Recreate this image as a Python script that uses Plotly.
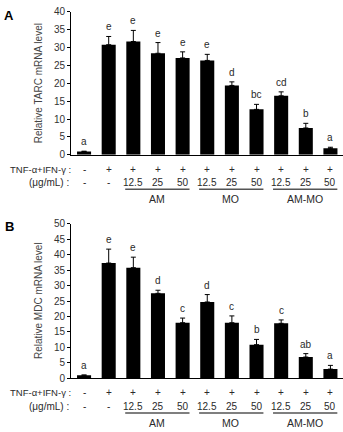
import plotly.graph_objects as go

W, H = 343, 432

# ---- data ----
x_idx = list(range(11))
tnf_row = ["-", "+", "+", "+", "+", "+", "+", "+", "+", "+", "+"]
dose_row = ["-", "-", "12.5", "25", "50", "12.5", "25", "50", "12.5", "25", "50"]
groups = ["AM", "MO", "AM-MO"]
group_cols = [(2, 4), (5, 7), (8, 10)]

tarc_vals = [0.9, 30.8, 31.7, 28.4, 27.1, 26.4, 19.4, 12.7, 16.5, 7.5, 1.8]
tarc_err = [0.1, 2.3, 3.1, 3.0, 1.7, 1.7, 1.0, 1.4, 1.1, 1.3, 0.3]
tarc_sig = ["a", "e", "e", "e", "e", "e", "d", "bc", "cd", "b", "a"]

mdc_vals = [1.0, 37.3, 35.8, 27.5, 18.0, 24.7, 18.0, 10.9, 17.8, 6.9, 3.0]
mdc_err = [0.1, 4.5, 3.4, 1.0, 1.5, 2.4, 2.2, 1.7, 1.1, 1.1, 1.2]
mdc_sig = ["a", "e", "e", "d", "c", "d", "c", "b", "c", "ab", "a"]

FONT = "Liberation Sans, Arial, sans-serif"
TXT = "#2a2a2a"


def py(p):
    return 1 - p / H


def px(p):
    return p / W


fig = go.Figure()

panels = [
    dict(vals=tarc_vals, err=tarc_err, sig=tarc_sig, xa="x", ya="y",
         top=6, bot=153, ymax=40, title="Relative TARC mRNA level", label="A", label_y=10),
    dict(vals=mdc_vals, err=mdc_err, sig=mdc_sig, xa="x2", ya="y2",
         top=224, bot=383, ymax=50, title="Relative MDC mRNA level", label="B", label_y=227),
]

annotations = []
shapes = []

for p in panels:
    fig.add_trace(go.Bar(
        x=x_idx, y=p["vals"], xaxis=p["xa"], yaxis=p["ya"],
        marker=dict(color="black", line=dict(width=0)),
        width=0.57,
        error_y=dict(type="data", array=p["err"], arrayminus=[0] * len(p["err"]),
                     symmetric=False, color="black", thickness=1, width=2.5),
        showlegend=False, hoverinfo="skip",
    ))
    # significance letters
    for i, (v, e, s) in enumerate(zip(p["vals"], p["err"], p["sig"])):
        annotations.append(dict(
            x=i, y=v + e, xref=p["xa"], yref=p["ya"], text=s, showarrow=False,
            yanchor="bottom", yshift=2, font=dict(size=10, color=TXT, family=FONT),
        ))
    # y title
    annotations.append(dict(
        x=px(38), y=py((p["top"] + p["bot"]) / 2), xref="paper", yref="paper",
        text=p["title"], textangle=-90, showarrow=False,
        xanchor="center", yanchor="middle",
        font=dict(size=10, color="#444", family=FONT),
    ))
    # panel label
    annotations.append(dict(
        x=px(9), y=py(p["label_y"]), xref="paper", yref="paper", text="<b>" + p["label"] + "</b>",
        xanchor="center", yanchor="middle",
        showarrow=False, font=dict(size=13, color="black", family=FONT),
    ))
    # table below
    b = p["bot"]
    y_tnf, y_dose, y_line, y_grp = b + 15, b + 28.5, b + 35.5, b + 46
    annotations.append(dict(x=px(73), y=py(y_tnf), xref="paper", yref="paper",
                            text="TNF-α+IFN-γ :", showarrow=False, xanchor="right",
                            yanchor="middle",
                            font=dict(size=9.5, color=TXT, family=FONT)))
    annotations.append(dict(x=px(71), y=py(y_dose), xref="paper", yref="paper",
                            text="(μg/mL) :", showarrow=False, xanchor="right",
                            yanchor="middle",
                            font=dict(size=10, color=TXT, family=FONT)))
    for i in x_idx:
        annotations.append(dict(x=i, y=py(y_tnf), xref=p["xa"], yref="paper",
                                text=tnf_row[i], showarrow=False, yanchor="middle",
                                font=dict(size=10, color=TXT, family=FONT)))
        annotations.append(dict(x=i, y=py(y_dose), xref=p["xa"], yref="paper",
                                text=dose_row[i], showarrow=False, yanchor="middle",
                                font=dict(size=10, color=TXT, family=FONT)))
    for g, (c0, c1) in zip(groups, group_cols):
        shapes.append(dict(type="line", xref=p["xa"], yref="paper",
                           x0=c0 - 0.33, x1=c1 + 0.28, y0=py(y_line), y1=py(y_line),
                           line=dict(color="#555", width=1.5)))
        annotations.append(dict(x=(c0 + c1) / 2 - 0.05, y=py(y_grp), xref=p["xa"], yref="paper",
                                text=g, showarrow=False, yanchor="middle",
                                font=dict(size=10.5, color=TXT, family=FONT)))

xcommon = dict(range=[-0.53, 10.51], showticklabels=False, ticks="", showgrid=False,
               zeroline=False, showline=True, linecolor="black", linewidth=1,
               domain=[px(71), 1], fixedrange=True)
ycommon = dict(showgrid=False, zeroline=False, showline=True, linecolor="black", linewidth=1,
               ticks="outside", ticklen=3, tickcolor="black", dtick=5,
               tickfont=dict(size=10, color="#333", family=FONT), fixedrange=True)

fig.update_layout(
    width=W, height=H,
    margin=dict(l=0, r=0, t=0, b=0),
    paper_bgcolor="white", plot_bgcolor="white",
    xaxis=dict(**xcommon, anchor="y"),
    xaxis2=dict(**xcommon, anchor="y2"),
    yaxis=dict(**ycommon, range=[0, 40], anchor="x", domain=[py(153), py(6)]),
    yaxis2=dict(**ycommon, range=[0, 50], anchor="x2", domain=[py(383), py(224)]),
    annotations=annotations,
    shapes=shapes,
    bargap=0.4,
    font=dict(family=FONT),
)

fig.write_html("out.html")
